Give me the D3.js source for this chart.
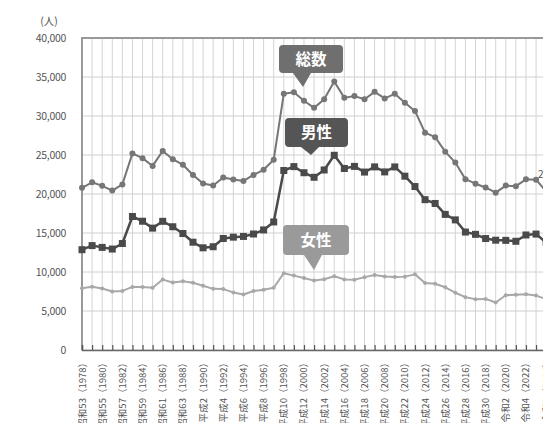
<!DOCTYPE html>
<html>
<head>
	<meta charset="utf-8">
	<script src="https://cdn.jsdelivr.net/npm/d3@7/dist/d3.min.js"></script>
	<title>自殺者数の推移</title>
	<style>
		body { margin: 0; background: #fff; }
		text { font-family: "Noto Sans CJK JP", "Noto Sans", sans-serif; }
	</style>
</head>
<body>
	<script>
		// years and series (人)
		var years = d3.range(1978, 2025);
		var total = [20788, 21503, 21048, 20434, 21228, 25202, 24596, 23599, 25524, 24460,
			23742, 22436, 21346, 21084, 22104, 21851, 21679, 22445, 23104, 24391,
			32863, 33048, 31957, 31042, 32143, 34427, 32325, 32552, 32155, 33093,
			32249, 32845, 31690, 30651, 27858, 27283, 25427, 24025, 21897, 21321,
			20840, 20169, 21081, 21007, 21881, 21837, 20320];
		var male = [12859, 13386, 13155, 12942, 13654, 17116, 16508, 15624, 16497, 15802,
			14934, 13818, 13102, 13242, 14296, 14468, 14560, 14874, 15393, 16416,
			23013, 23512, 22727, 22144, 23080, 24963, 23272, 23540, 22813, 23478,
			22831, 23472, 22283, 20955, 19273, 18787, 17386, 16681, 15121, 14826,
			14290, 14078, 14055, 13939, 14746, 14862, 13801];
		var female = [7929, 8117, 7893, 7492, 7574, 8086, 8088, 7975, 9027, 8658,
			8808, 8618, 8244, 7842, 7808, 7383, 7119, 7571, 7711, 7975,
			9850, 9536, 9230, 8898, 9063, 9464, 9053, 9012, 9342, 9615,
			9418, 9373, 9407, 9696, 8585, 8496, 8041, 7344, 6776, 6495,
			6550, 6091, 7026, 7068, 7135, 6975, 6519];
		var yTicks = [0, 5000, 10000, 15000, 20000, 25000, 30000, 35000, 40000];
		var labelYears = d3.range(1978, 2025, 2);
		var eraLabels = ['昭和53', '昭和55', '昭和57', '昭和59', '昭和61', '昭和63',
			'平成2', '平成4', '平成6', '平成8', '平成10', '平成12', '平成14', '平成16',
			'平成18', '平成20', '平成22', '平成24', '平成26', '平成28', '平成30',
			'令和2', '令和4', '令和6'];

		var svgWidth = 543;
		var svgHeight = 423;

		var svg = d3.select('body')
			.append('svg')
			.attr('width', svgWidth)
			.attr('height', svgHeight);

		var xScale = d3.scaleLinear()
			.domain([1978, 2024])
			.range([82, 82 + 46 * 10.09]);

		var yScale = d3.scaleLinear()
			.domain([0, 40000])
			.range([350, 38]);

		// vertical grid, every year
		svg.append('g')
			.selectAll('line')
			.data(years)
			.enter()
			.append('line')
				.attr('x1', function (d) { return xScale(d); })
				.attr('x2', function (d) { return xScale(d); })
				.attr('y1', yScale(40000))
				.attr('y2', yScale(0))
				.attr('stroke', '#d4d4d4')
				.attr('stroke-width', 1);

		// horizontal grid
		svg.append('g')
			.selectAll('line')
			.data(yTicks)
			.enter()
			.append('line')
				.attr('x1', xScale(1978))
				.attr('x2', svgWidth)
				.attr('y1', function (d) { return yScale(d); })
				.attr('y2', function (d) { return yScale(d); })
				.attr('stroke', function (d) { return d == 40000 ? '#999' : '#d0d0d0'; })
				.attr('stroke-width', function (d) { return d == 40000 ? 2 : 1; });

		// left axis line + bottom axis with inner ticks
		svg.append('line')
			.attr('x1', xScale(1978)).attr('x2', xScale(1978))
			.attr('y1', yScale(40000) - 1).attr('y2', yScale(0))
			.attr('stroke', '#999').attr('stroke-width', 2);

		var xAxis = d3.axisBottom(xScale)
			.tickValues(years)
			.tickSize(-5)
			.tickFormat('');
		var gx = svg.append('g')
			.attr('transform', 'translate(0,' + yScale(0) + ')')
			.call(xAxis);
		gx.select('.domain').attr('stroke', '#666').attr('stroke-width', 1.5);
		gx.selectAll('.tick line').attr('stroke', '#555').attr('stroke-width', 1.2);

		// y labels
		svg.append('g')
			.selectAll('text')
			.data(yTicks)
			.enter()
			.append('text')
				.attr('x', 66)
				.attr('y', function (d) { return yScale(d) + 3.5; })
				.attr('text-anchor', 'end')
				.attr('font-size', 10.5)
				.attr('letter-spacing', -0.3)
				.attr('fill', '#555')
				.text(function (d) { return d3.format(',')(d); });

		svg.append('text')
			.attr('x', 49).attr('y', 25)
			.attr('text-anchor', 'middle')
			.attr('font-size', 10.5)
			.attr('fill', '#555')
			.text('(人)');

		// x labels, rotated
		svg.append('g')
			.selectAll('text')
			.data(labelYears)
			.enter()
			.append('text')
				.attr('transform', function (d) {
					return 'translate(' + (xScale(d) + 3.5) + ',358) rotate(-90)';
				})
				.attr('text-anchor', 'end')
				.attr('font-size', 9.5)
				.attr('fill', '#555')
				.text(function (d, i) { return eraLabels[i] + '（' + d + '）'; });

		// series
		function drawSeries(values, color, width) {
			var line = d3.line()
				.x(function (d, i) { return xScale(years[i]); })
				.y(function (d) { return yScale(d); });
			svg.append('path')
				.datum(values)
				.attr('d', line)
				.attr('fill', 'none')
				.attr('stroke', color)
				.attr('stroke-width', width)
				.attr('stroke-linejoin', 'round');
		}

		drawSeries(female, '#a8a8a8', 2);
		svg.append('g')
			.selectAll('circle')
			.data(female)
			.enter()
			.append('circle')
				.attr('cx', function (d, i) { return xScale(years[i]); })
				.attr('cy', function (d) { return yScale(d); })
				.attr('r', 2)
				.attr('fill', '#a8a8a8');

		drawSeries(male, '#4a4a4a', 2.5);
		svg.append('g')
			.selectAll('rect')
			.data(male)
			.enter()
			.append('rect')
				.attr('x', function (d, i) { return xScale(years[i]) - 3.5; })
				.attr('y', function (d) { return yScale(d) - 3.5; })
				.attr('width', 7)
				.attr('height', 7)
				.attr('fill', '#4a4a4a');

		drawSeries(total, '#767676', 2);
		svg.append('g')
			.selectAll('circle')
			.data(total)
			.enter()
			.append('circle')
				.attr('cx', function (d, i) { return xScale(years[i]); })
				.attr('cy', function (d) { return yScale(d); })
				.attr('r', 3)
				.attr('fill', '#767676');

		// end value label (cut by the frame, as in the source)
		svg.append('text')
			.attr('x', 538).attr('y', 178)
			.attr('font-size', 10)
			.attr('fill', '#555')
			.text('20,320');

		// callouts
		function callout(x, y, w, h, tipX, tipY, fill, label) {
			var r = 4;
			var p = d3.path();
			p.moveTo(x + r, y);
			p.lineTo(x + w - r, y);
			p.arcTo(x + w, y, x + w, y + r, r);
			p.lineTo(x + w, y + h - r);
			p.arcTo(x + w, y + h, x + w - r, y + h, r);
			p.lineTo(tipX + 8, y + h);
			p.lineTo(tipX, tipY);
			p.lineTo(tipX - 10, y + h);
			p.lineTo(x + r, y + h);
			p.arcTo(x, y + h, x, y + h - r, r);
			p.lineTo(x, y + r);
			p.arcTo(x, y, x + r, y, r);
			p.closePath();
			svg.append('path')
				.attr('d', p.toString())
				.attr('fill', fill);
			svg.append('text')
				.attr('x', x + w / 2)
				.attr('y', y + h / 2 + 5.5)
				.attr('text-anchor', 'middle')
				.attr('font-size', 15.5)
				.attr('font-weight', 'bold')
				.attr('fill', '#fff')
				.text(label);
		}

		callout(279, 45, 64, 28, 303, 87, '#6f6f6f', '総数');
		callout(285, 118, 63, 29, 311, 155, '#555555', '男性');
		callout(283, 225, 66, 30, 314, 270, '#9a9a9a', '女性');
	</script>
</body>
</html>
